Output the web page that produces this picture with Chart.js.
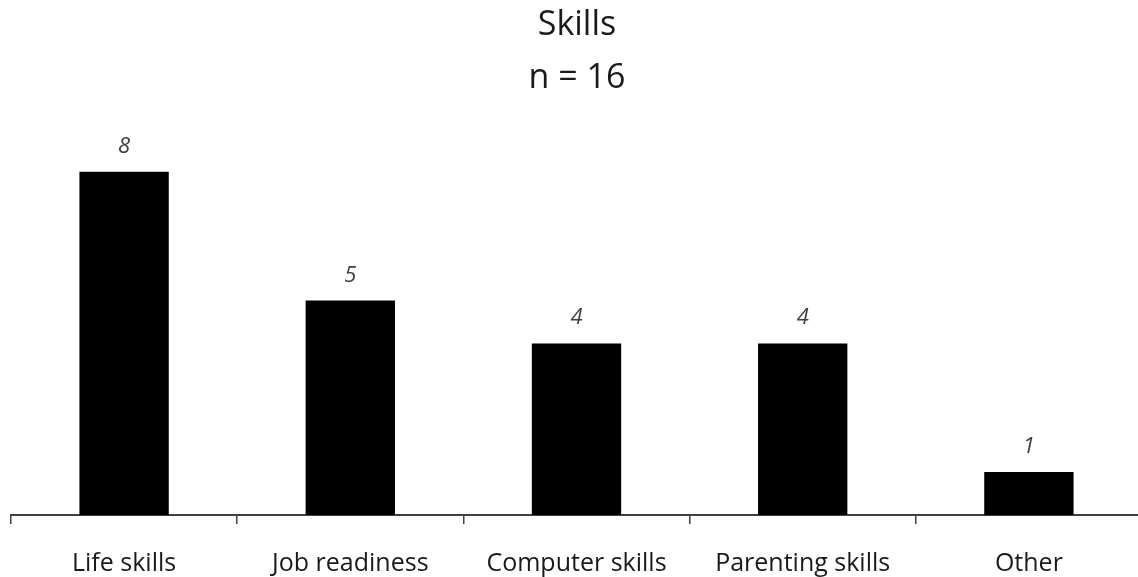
<!DOCTYPE html>
<html>
<head>
<meta charset="utf-8">
<script src="https://cdn.jsdelivr.net/npm/chart.js@4/dist/chart.umd.min.js"></script>
<style>
html,body{margin:0;padding:0;background:#fff;overflow:hidden;}
#wrap{width:1138px;height:577px;overflow:hidden;}
canvas{display:block;}
</style>
</head>
<body>
<div id="wrap"><canvas id="c" width="1142" height="577"></canvas></div>
<script>
const titleLines = ["Skills", "n = 16"];
const categories = ["Life skills", "Job readiness", "Computer skills", "Parenting skills", "Other"];
const values = [8, 5, 4, 4, 1];

const FONT = "'Open Sans', 'Liberation Sans', sans-serif";

const titlePlugin = {
  id: 'titleLines',
  afterDraw(chart) {
    const ctx = chart.ctx;
    ctx.save();
    ctx.fillStyle = '#1a1a1a';
    ctx.textAlign = 'center';
    ctx.textBaseline = 'alphabetic';
    ctx.font = "34px " + FONT;
    ctx.fillText(titleLines[0], 577, 35);
    ctx.fillText(titleLines[1], 577, 88);
    ctx.restore();
  }
};

const valueLabels = {
  id: 'valueLabels',
  afterDatasetsDraw(chart) {
    const ctx = chart.ctx;
    const meta = chart.getDatasetMeta(0);
    ctx.save();
    ctx.fillStyle = '#404040';
    ctx.textAlign = 'center';
    ctx.textBaseline = 'alphabetic';
    ctx.font = "italic 22px " + FONT;
    meta.data.forEach((bar, i) => {
      ctx.fillText(String(values[i]), bar.x, bar.y - 19);
    });
    ctx.restore();
  }
};

new Chart(document.getElementById('c'), {
  type: 'bar',
  data: {
    labels: categories,
    datasets: [{
      data: values,
      backgroundColor: '#000000',
      borderWidth: 0,
      barPercentage: 0.79,
      categoryPercentage: 0.5
    }]
  },
  options: {
    responsive: false,
    animation: false,
    layout: { padding: { left: 11, right: 0, top: 86, bottom: 0 } },
    plugins: { legend: { display: false }, title: { display: false }, tooltip: { enabled: false } },
    scales: {
      x: {
        afterFit(scale) { scale.height = 62; },
        grid: { offset: true, drawOnChartArea: false, drawTicks: true, tickLength: 9, color: '#404040', lineWidth: 1.5 },
        border: { display: true, color: '#404040', width: 2 },
        ticks: { color: '#1a1a1a', font: { family: FONT, size: 25 }, padding: 25, maxRotation: 0, autoSkip: false }
      },
      y: { display: false, min: 0, max: 10 }
    }
  },
  plugins: [titlePlugin, valueLabels]
});
</script>
</body>
</html>
